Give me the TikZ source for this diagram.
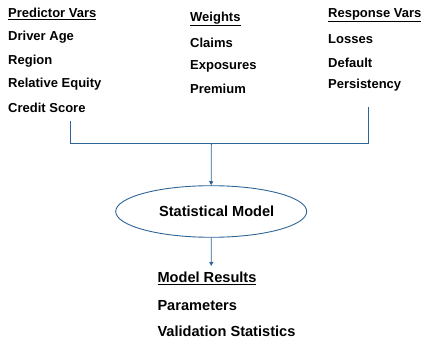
\documentclass[tikz,border=0pt]{standalone}
\usepackage{fontspec}
\setmainfont{Liberation Sans}
\usetikzlibrary{shapes.geometric,arrows.meta}
\definecolor{linkblue}{HTML}{2E6496}
\tikzset{
  lbl/.style={anchor=west,inner sep=0pt,font=\bfseries\fontsize{13}{15}\selectfont},
  biglbl/.style={anchor=west,inner sep=0pt,font=\bfseries\fontsize{14.6}{17}\selectfont},
  link/.style={draw=linkblue,line width=0.9pt},
  linkarrow/.style={link,-{Triangle[length=4pt,width=4pt]}},
}
\begin{document}
\begin{tikzpicture}[x=1pt,y=-1pt]
\useasboundingbox (0,0) rectangle (425,344);
% predictor variables
\node[lbl] (pv)  at (8,14)    {\underline{Predictor Vars}};
\node[lbl] (pv1) at (8,37.5)  {Driver Age};
\node[lbl] (pv2) at (8,60.7)  {Region};
\node[lbl] (pv3) at (8,84.3)  {Relative Equity};
\node[lbl] (pv4) at (8,108.3) {Credit Score};
% weights
\node[lbl] (wt)  at (190,19)   {\underline{Weights}};
\node[lbl] (wt1) at (190,42.7) {Claims};
\node[lbl] (wt2) at (190,66.7) {Exposures};
\node[lbl] (wt3) at (190,89.3) {Premium};
% response variables
\node[lbl] (rv)  at (328,15)   {\underline{Response Vars}};
\node[lbl] (rv1) at (328,38.7) {Losses};
\node[lbl] (rv2) at (328,62.7) {Default};
\node[lbl] (rv3) at (328,85.3) {Persistency};
% model
\node[draw=linkblue,line width=0.9pt,ellipse,minimum width=191pt,minimum height=51.6pt,inner sep=0pt,
      font=\bfseries\fontsize{14.6}{17}\selectfont] (sm) at (211.2,211.5) {\hspace*{11pt}Statistical Model};
% results
\node[biglbl] (mr)  at (157.3,278.3) {\underline{Model Results}};
\node[biglbl] (mr1) at (157.3,305.7) {Parameters};
\node[biglbl] (mr2) at (157.3,331.7) {Validation Statistics};
% bracket joining the inputs
\coordinate (lt) at (70.7,121);
\coordinate (lb) at (70.7,143.3);
\coordinate (rt) at (368.3,107.3);
\coordinate (rb) at (368.3,143.3);
\coordinate (mb) at (211.3,143.3);
\draw[link] (lt) -- (lb) -- (rb) -- (rt);
\draw[linkarrow] (mb) -- (sm.north);
\coordinate (rs) at (211.3,266);
\draw[linkarrow] (sm.south) -- (rs);
\end{tikzpicture}
\end{document}
